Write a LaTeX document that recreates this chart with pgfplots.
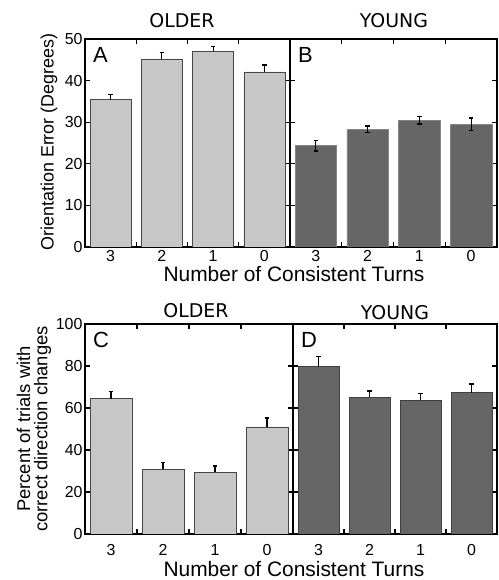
\documentclass[border=0pt]{standalone}
\usepackage{fontspec}
\setmainfont{Liberation Sans}
\newfontfamily\titlefont{DejaVu Sans}
\usepackage{pgfplots}
\pgfplotsset{compat=1.18}

\definecolor{lightbar}{RGB}{199,199,199}
\definecolor{darkbar}{RGB}{102,102,102}
\definecolor{baredge}{RGB}{70,70,70}

\tikzset{letter/.style={anchor=north west, inner sep=0pt, font=\fontsize{22}{24}\selectfont}}

\pgfplotsset{
  panel/.style={
    scale only axis, anchor=south west,
    ybar, bar width=0.8, xmin=-0.5, xmax=3.5, ymin=0,
    xtick={0,1,2,3}, xticklabels={3,2,1,0},
    minor xtick={0.5,1.5,2.5},
    tick align=inside, tick pos=both,
    major tick length=5bp, minor tick length=5bp,
    every tick/.append style={black, line width=1.2bp},
    major x tick style={draw=none},
    axis line style={line width=1.6bp},
    tick label style={font=\fontsize{16}{19}\selectfont},
    yticklabel style={xshift=1bp},
    /pgf/number format/assume math mode=true,
  },
  errs/.style={
    error bars/.cd, y dir=#1, y explicit,
    error bar style={black, line width=1.2bp},
    error mark options={rotate=90, mark size=2.3bp, line width=1.4bp},
  },
}

\begin{document}
\begin{tikzpicture}
\useasboundingbox (0,0) rectangle (499bp,580bp);

% A: older, orientation error
\begin{axis}[panel, at={(85bp,333bp)}, width=205bp, height=208bp,
    ymax=50, ytick={0,10,...,50}]
  \addplot[fill=lightbar, draw=baredge, line width=0.6bp, errs=plus]
    coordinates {(0,35.4) +- (0,1.2) (1,45.2) +- (0,1.6) (2,47.1) +- (0,1.1) (3,42.1) +- (0,1.65)};
  \node[letter] at (rel axis cs:0,1) [xshift=8bp, yshift=-8bp] {A};
\end{axis}

% B: young, orientation error
\begin{axis}[panel, at={(290bp,333bp)}, width=207bp, height=208bp,
    ymax=50, ytick={0,10,...,50}, yticklabels={}]
  \addplot[fill=darkbar, draw=darkbar!80!white, line width=0.6bp, errs=both]
    coordinates {(0,24.35) +- (0,1.3) (1,28.3) +- (0,0.8) (2,30.45) +- (0,0.9) (3,29.5) +- (0,1.5)};
  \node[letter] at (rel axis cs:0,1) [xshift=8bp, yshift=-8bp] {B};
\end{axis}

% C: older, correct direction changes
\begin{axis}[panel, at={(85bp,46bp)}, width=208bp, height=210bp,
    ymax=100, ytick={0,20,...,100},
    xticklabel style={yshift=-7bp}]
  \addplot[fill=lightbar, draw=baredge, line width=0.6bp, errs=plus]
    coordinates {(0,64.4) +- (0,3.4) (1,30.95) +- (0,3.0) (2,29.3) +- (0,3.1) (3,51.0) +- (0,4.2)};
  \node[letter] at (rel axis cs:0,1) [xshift=8bp, yshift=-8bp] {C};
\end{axis}

% D: young, correct direction changes
\begin{axis}[panel, at={(293bp,46bp)}, width=204bp, height=210bp,
    ymax=100, ytick={0,20,...,100}, yticklabels={},
    xticklabel style={yshift=-7bp}]
  \addplot[fill=darkbar, draw=black!75, line width=0.6bp, errs=plus]
    coordinates {(0,79.7) +- (0,4.7) (1,65.2) +- (0,2.9) (2,63.6) +- (0,3.2) (3,67.3) +- (0,4.1)};
  \node[letter] at (rel axis cs:0,1) [xshift=8bp, yshift=-8bp] {D};
\end{axis}

% titles and shared labels
\begin{scope}[every node/.style={font=\titlefont\fontsize{19}{22}\selectfont, anchor=base}]
  \node at (182bp,552bp) {OLDER};
  \node at (394bp,552bp) {YOUNG};
  \node at (196bp,262bp) {OLDER};
  \node at (395bp,260bp) {YOUNG};
\end{scope}
\node[anchor=base, font=\fontsize{21}{24}\selectfont] at (294bp,298bp) {Number of Consistent Turns};
\node[anchor=base, font=\fontsize{21}{24}\selectfont] at (294bp,4bp) {Number of Consistent Turns};
\node[rotate=90, font=\fontsize{18}{20}\selectfont] at (49bp,438bp) {Orientation Error (Degrees)};
\node[rotate=90, align=center, font=\fontsize{18.5}{17.5}\selectfont] at (34bp,151bp)
  {Percent of trials with\\correct direction changes};
\end{tikzpicture}
\end{document}
